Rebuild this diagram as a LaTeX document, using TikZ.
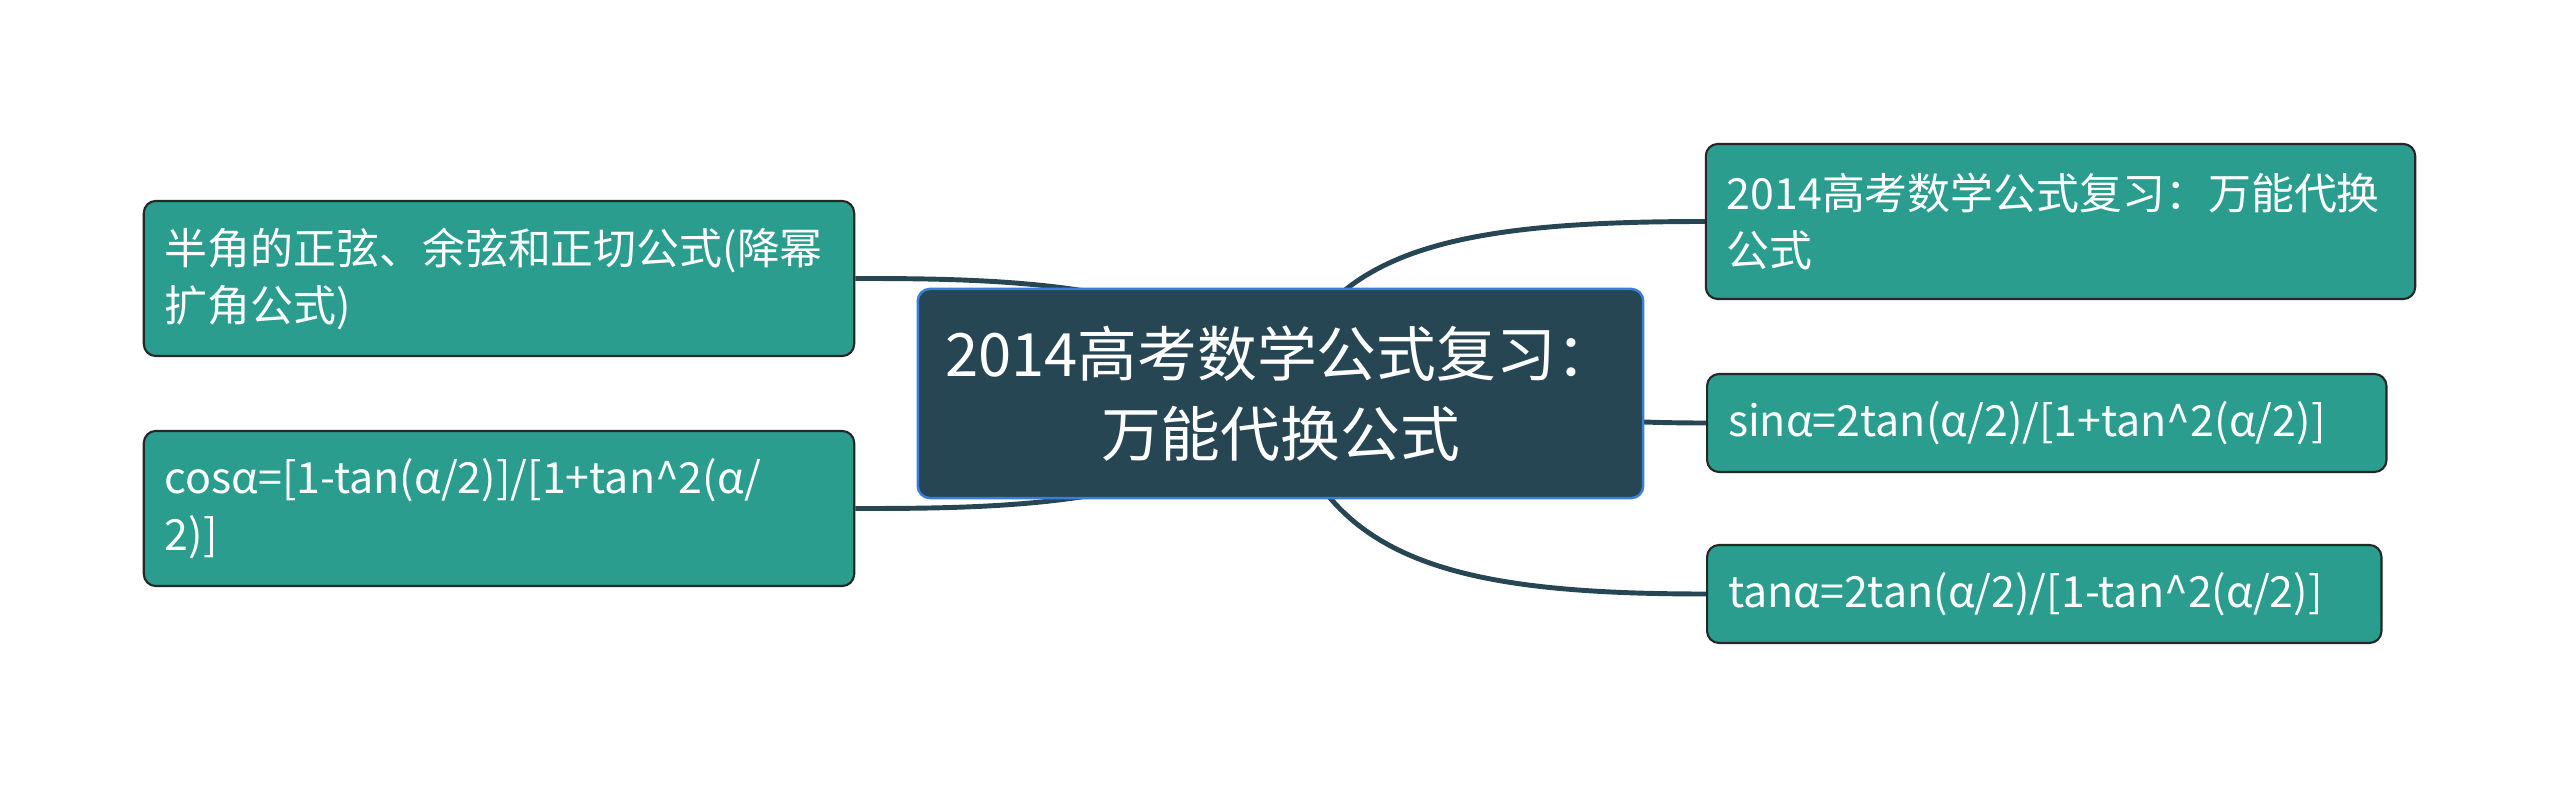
\documentclass[tikz,border=0pt]{standalone}
\usepackage{fontspec}
\setmainfont{Noto Sans CJK SC}
\usetikzlibrary{backgrounds}
\definecolor{topicfill}{HTML}{264653}
\definecolor{topicline}{HTML}{3B7DDD}
\definecolor{subfill}{HTML}{2A9D8F}
\definecolor{conncol}{HTML}{264653}
\tikzset{topic/.style={draw=topicline, line width=0.7pt, fill=topicfill,
		rounded corners=0.12cm, text=white, align=center,
		font=\fontsize{17}{22.7}\selectfont,
		minimum width=7.25cm, minimum height=2.09cm},
	subtopic/.style={draw=black!85, line width=0.6pt, fill=subfill,
		rounded corners=0.12cm, text=white, align=left, inner xsep=0.21cm,
		font=\fontsize{12.2}{16.2}\selectfont},
	conn/.style={draw=conncol, line width=1.4pt}}
\begin{document}
\begin{tikzpicture}[x=0.01cm, y=-0.01cm]
	\useasboundingbox (0,0) rectangle (2560,788);
	\node[topic] (root) at (1280.5,393.5) {2014高考数学公式复习：\\万能代换公式};
	\node[subtopic, text width=6.68cm, minimum height=1.55cm] (half) at (499,278.5)
		{半角的正弦、余弦和正切公式(降幂\\扩角公式)};
	\node[subtopic, text width=6.68cm, minimum height=1.55cm] (cos) at (499,508.5)
		{cosα=[1-tan(α/2)]/[1+tan\textasciicircum2(α/\\2)]};
	\node[subtopic, text width=6.67cm, minimum height=1.55cm] (title) at (2060.5,221.5)
		{2014高考数学公式复习：万能代换\\公式};
	\node[subtopic, anchor=west, text width=6.37cm, minimum height=0.98cm] (sin) at (1706,423)
		{sinα=2tan(α/2)/[1+tan\textasciicircum2(α/2)]};
	\node[subtopic, anchor=west, text width=6.32cm, minimum height=0.98cm] (tan) at (1706,594)
		{tanα=2tan(α/2)/[1-tan\textasciicircum2(α/2)]};
	\begin{scope}[on background layer]
		\draw[conn] (root.center) .. controls (1220,280) and (1000,278.5) .. (half.east);
		\draw[conn] (root.center) .. controls (1220,508) and (1000,508.5) .. (cos.east);
		\draw[conn] (root.center) .. controls (1320,250) and (1450,221.5) .. (title.west);
		\draw[conn] (root.center) .. controls (1450,393) and (1500,423) .. (sin.west);
		\draw[conn] (root.center) .. controls (1320,560) and (1450,594) .. (tan.west);
	\end{scope}
\end{tikzpicture}
\end{document}
